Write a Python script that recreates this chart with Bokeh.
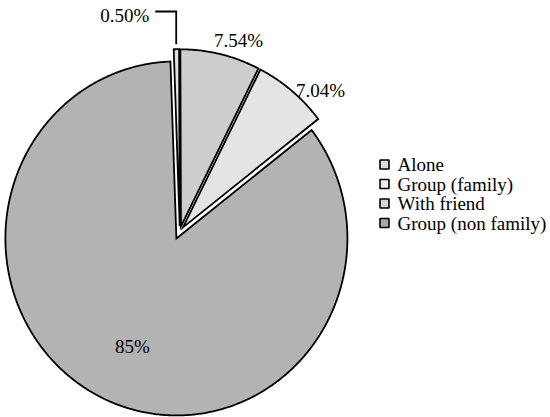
import numpy as np
from bokeh.plotting import figure
from bokeh.models import Range1d, ColumnDataSource
from bokeh.core.properties import value
from bokeh.embed import file_html
from bokeh.resources import INLINE

# ---- data ----
categories = ["Alone", "Group (family)", "With friend", "Group (non family)"]
shares = [0.50, 7.54, 7.04, 85.0]
share_labels = ["0.50%", "7.54%", "7.04%", "85%"]

# ---- style ----
slice_colors = ["#e2e2e2", "#cdcdcd", "#e4e4e4", "#b3b3b3"]
legend_colors = ["#dcdcdc", "#eeeeee", "#d6d6d6", "#a8a8a8"]
FONT = "Liberation Serif"
FS = "19px"

W, H = 550, 417
CX, CY = 179.3, 230.7          # pie centre (screen px)
RX, RY = 171.0, 177.0          # radii
START = -2.0                   # first slice start angle, deg clockwise from 12 o'clock
EXPLODE = [5.0, 5.0, 5.0, 8.0]
# label placement: (angle nudge deg, radius factor) relative to slice mid-angle, from pie centre
LABEL_POS = [None, (4.3, 1.131), (6.4, 1.144), (-2.1, 0.708)]

p = figure(width=W, height=H, x_range=Range1d(0, W), y_range=Range1d(H, 0),
           output_backend="svg", toolbar_location=None, min_border=0,
           x_axis_type=None, y_axis_type=None)
p.grid.visible = False
p.outline_line_color = None
p.background_fill_color = "white"
p.border_fill_color = "white"

total = float(sum(shares))
spans = np.array(shares) / total * 360.0
starts = START + np.concatenate([[0.0], np.cumsum(spans)[:-1]])
ends = starts + spans
mids = (starts + ends) / 2.0

xs_list, ys_list, centres = [], [], []
for a0, a1, m, d in zip(starts, ends, mids, EXPLODE):
    mr = np.radians(m)
    ox = CX + d * np.sin(mr)
    oy = CY - d * np.cos(mr)
    centres.append((ox, oy))
    n = max(int(abs(a1 - a0) * 2), 6)
    phi = np.radians(np.linspace(a0, a1, n))
    xs_list.append(list(np.concatenate([[ox], ox + RX * np.sin(phi)])))
    ys_list.append(list(np.concatenate([[oy], oy - RY * np.cos(phi)])))

src = ColumnDataSource(dict(xs=xs_list, ys=ys_list, color=slice_colors, cat=categories))
p.patches("xs", "ys", source=src, fill_color="color", line_color="black",
          line_width=1.8, line_join="miter")

# percentage labels for the larger slices
lx, ly, lt = [], [], []
for i, lp in enumerate(LABEL_POS):
    if lp is None:
        continue
    nudge, f = lp
    a = np.radians(mids[i] + nudge)
    lx.append(CX + f * RX * np.sin(a))
    ly.append(CY - f * RY * np.cos(a))
    lt.append(share_labels[i])
p.text(x=lx, y=ly, text=lt, text_font=value(FONT), text_font_size=FS,
       text_align="center", text_baseline="middle", text_color="black")

# leader line for the tiny slice
ox, oy = centres[0]
mr = np.radians(mids[0])
tip_x = ox + (RY + 5) * np.sin(mr)
tip_y = oy - (RY + 5) * np.cos(mr)
elbow_y = 11.0
p.line(x=[tip_x, tip_x, tip_x - 21], y=[tip_y, elbow_y, elbow_y],
       line_color="black", line_width=1.8, line_join="miter")
p.text(x=[tip_x - 27], y=[elbow_y + 4], text=[share_labels[0]], text_font=value(FONT),
       text_font_size=FS, text_align="right", text_baseline="middle", text_color="black")

# legend (manual)
LEG_X, LEG_Y0, LEG_DY = 384.0, 164.0, 19.5
leg_y = [LEG_Y0 + i * LEG_DY for i in range(len(categories))]
p.scatter(x=[LEG_X] * len(categories), y=leg_y, marker="square", size=9,
          fill_color=legend_colors, line_color="black", line_width=1.6)
p.text(x=[LEG_X + 13] * len(categories), y=leg_y, text=categories, text_font=value(FONT),
       text_font_size=FS, text_align="left", text_baseline="middle", text_color="black")

open("out.html", "w").write(file_html(p, INLINE))
